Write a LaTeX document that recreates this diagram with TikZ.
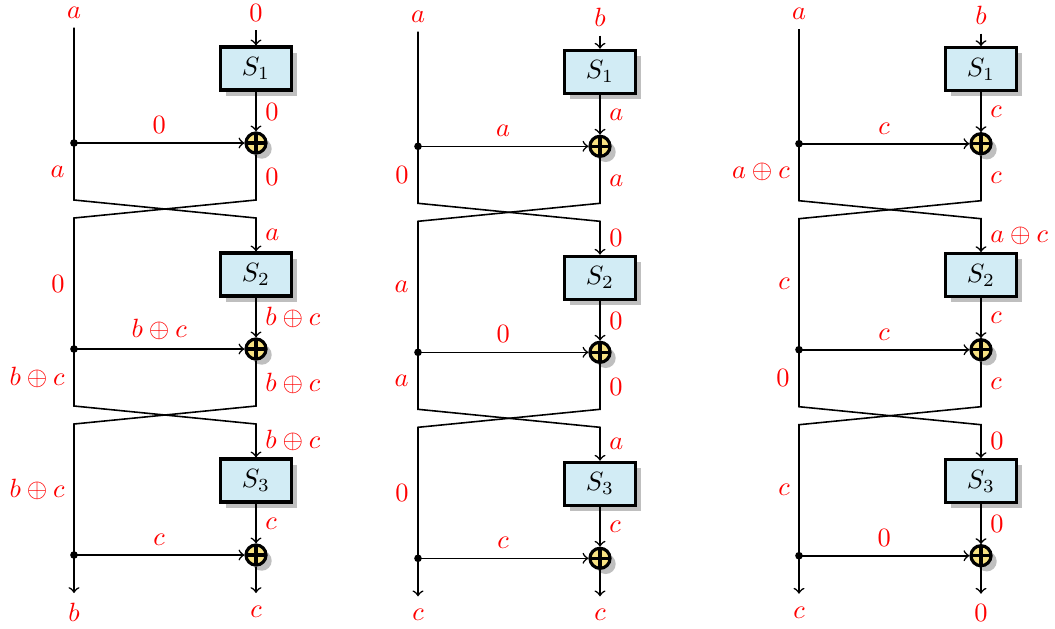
\documentclass[tikz,border=0pt]{standalone}
\usetikzlibrary{calc,shadows}
\definecolor{boxfill}{RGB}{210,236,245}
\definecolor{xorfill}{RGB}{248,226,130}
\tikzset{
  arr/.style={semithick,->},
  lab/.style={text=red},
  sbox/.style={draw,very thick,fill=boxfill,minimum width=27pt,minimum height=16.3pt,inner sep=0pt,drop shadow},
  xorn/.style={circle,draw,very thick,fill=xorfill,minimum size=7.6pt,inner sep=0pt,drop shadow,
    path picture={\draw[very thick] (path picture bounding box.north)--(path picture bounding box.south)
      (path picture bounding box.west)--(path picture bounding box.east);}},
  dotn/.style={circle,fill=black,minimum size=2.9pt,inner sep=0pt},
}
% #1 prefix, #2 xL, #3 dy, #4 top-left y, #5 top-right y, #6..#9 texts
\newcommand\FCol[9]{%
  \node[lab] (#1-tl) at (#2,#4) {$#6$};
  \node[lab] (#1-tr) at ({#2+182},#5) {$#7$};
  \foreach \k in {1,2,3}{
    \node[sbox] (#1-S\k) at ({#2+182},{#3+68.5+206*(\k-1)}) {$S_{\k}$};
    \node[xorn] (#1-X\k) at ({#2+182},{#3+143+206*(\k-1)}) {};
    \node[dotn] (#1-D\k) at (#2,{#3+143+206*(\k-1)}) {};
  }
  \foreach \k in {1,2}{
    \coordinate (#1-a\k) at (#2,{#3+200+206*(\k-1)});
    \coordinate (#1-b\k) at ({#2+182},{#3+200+206*(\k-1)});
    \coordinate (#1-c\k) at (#2,{#3+218+206*(\k-1)});
    \coordinate (#1-d\k) at ({#2+182},{#3+218+206*(\k-1)});
  }
  \coordinate (#1-eL) at (#2,{#3+593});
  \coordinate (#1-eR) at ({#2+182},{#3+593});
  \node[lab] (#1-bl) at (#2,{#3+612}) {$#8$};
  \node[lab] (#1-br) at ({#2+182},{#3+612}) {$#9$};
  \draw[arr] (#1-tl) -- (#1-D1.center) -- (#1-a1) -- (#1-d1) -- (#1-S2);
  \draw[arr] (#1-X1) -- (#1-b1) -- (#1-c1) -- (#1-D2.center) -- (#1-a2) -- (#1-d2) -- (#1-S3);
  \draw[arr] (#1-X2) -- (#1-b2) -- (#1-c2) -- (#1-D3.center) -- (#1-eL);
  \draw[arr] (#1-X3) -- (#1-eR);
  \draw[arr] (#1-tr) -- (#1-S1);
  \foreach \k in {1,2,3}{
    \draw[arr] (#1-S\k) -- (#1-X\k);
    \draw[arr] (#1-D\k.center) -- (#1-X\k);
  }
}
% #1 prefix, #2 round list k/sx/mid, #3 cross list k/lb/rb/ra/ll
\newcommand\FLab[3]{%
  \foreach \k/\qsx/\qmd in {#2}{
    \node[lab,anchor=west] (#1-sx\k) at ($(#1-S\k.south)!0.5!(#1-X\k.north)$) {$\qsx$};
    \node[lab,anchor=south] (#1-md\k) at ($(#1-D\k.center)!0.5!(#1-X\k.west)$) {$\qmd$};
  }
  \foreach \k/\qa/\qb/\qc/\qd in {#3}{
    \pgfmathtruncatemacro\kk{\k+1}
    \node[lab,anchor=east] (#1-lb\k) at ($(#1-D\k.center)!0.5!(#1-a\k)$) {$\qa$};
    \node[lab,anchor=west] (#1-rb\k) at ($(#1-X\k.south)!0.5!(#1-b\k)$) {$\qb$};
    \node[lab,anchor=west] (#1-ra\k) at ($(#1-d\k)!0.5!(#1-S\kk.north)$) {$\qc$};
    \node[lab,anchor=east] (#1-ll\k) at ($(#1-c\k)!0.5!(#1-D\kk.center)$) {$\qd$};
  }
}
\begin{document}
\begin{tikzpicture}[x=0.3788pt,y=-0.3788pt]
\useasboundingbox (0,0) rectangle (1055,628);
\FCol{c1}{74}{0}{12.5}{12.5}{a}{0}{b}{c}
\FCol{c2}{418}{3.3}{16.5}{17}{a}{b}{c}{c}
\FCol{c3}{799}{0.7}{14}{15}{a}{b}{c}{0}
\FLab{c1}{1/0/0,2/b\oplus c/b\oplus c,3/c/c}{1/a/0/a/0,2/b\oplus c/b\oplus c/b\oplus c/b\oplus c}
\FLab{c2}{1/a/a,2/0/0,3/c/c}{1/0/a/0/a,2/a/0/a/0}
\FLab{c3}{1/c/c,2/c/c,3/0/0}{1/a\oplus c/c/a\oplus c/c,2/0/c/0/c}
\end{tikzpicture}
\end{document}
